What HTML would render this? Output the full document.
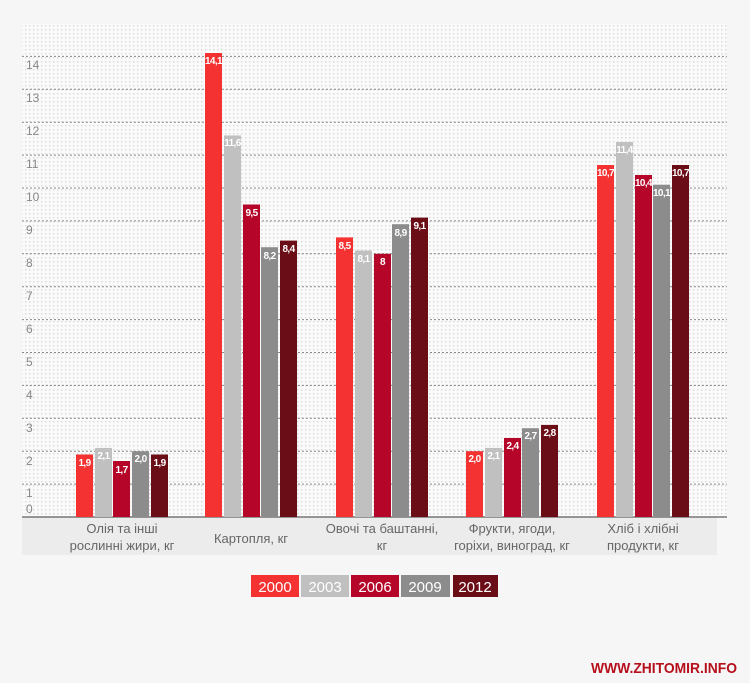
<!DOCTYPE html>
<html><head><meta charset="utf-8"><style>
html,body{margin:0;padding:0;background:#f6f6f6;}
svg{display:block;font-family:"Liberation Sans Narrow","Liberation Sans",sans-serif;}
</style></head><body>
<svg width="750" height="683" viewBox="0 0 750 683" xmlns="http://www.w3.org/2000/svg">
<defs>
<pattern id="dots" width="4" height="4" patternUnits="userSpaceOnUse">
<rect width="4" height="4" fill="#fafafa"/>
<rect x="1" y="1" width="1.4" height="1.4" fill="#d8d8d8"/>
</pattern>
</defs>
<rect width="750" height="683" fill="#f6f6f6"/>
<rect x="22" y="24" width="705" height="493" fill="url(#dots)"/>
<g stroke="#888" stroke-width="1" stroke-dasharray="2,2">
<line x1="22" x2="727" y1="56.4" y2="56.4"/><line x1="22" x2="727" y1="89.3" y2="89.3"/>
<line x1="22" x2="727" y1="122.2" y2="122.2"/><line x1="22" x2="727" y1="155.1" y2="155.1"/>
<line x1="22" x2="727" y1="188" y2="188"/><line x1="22" x2="727" y1="220.9" y2="220.9"/>
<line x1="22" x2="727" y1="253.8" y2="253.8"/><line x1="22" x2="727" y1="286.7" y2="286.7"/>
<line x1="22" x2="727" y1="319.6" y2="319.6"/><line x1="22" x2="727" y1="352.5" y2="352.5"/>
<line x1="22" x2="727" y1="385.4" y2="385.4"/><line x1="22" x2="727" y1="418.3" y2="418.3"/>
<line x1="22" x2="727" y1="451.2" y2="451.2"/><line x1="22" x2="727" y1="484.1" y2="484.1"/>
</g>
<g fill="#888" font-size="12">
<text x="26" y="69">14</text><text x="26" y="102">13</text><text x="26" y="135">12</text><text x="26" y="168">11</text>
<text x="26" y="201">10</text><text x="26" y="234">9</text><text x="26" y="267">8</text><text x="26" y="300">7</text>
<text x="26" y="333">6</text><text x="26" y="366">5</text><text x="26" y="399">4</text><text x="26" y="432">3</text>
<text x="26" y="465">2</text><text x="26" y="497">1</text><text x="26" y="513">0</text>
</g>
<rect x="22" y="517" width="695" height="38" fill="#ececec"/>
<line x1="22" x2="727" y1="517" y2="517" stroke="#777" stroke-width="1.5"/>
<g id="bars" font-size="10" font-weight="bold" fill="#fff" text-anchor="middle" letter-spacing="-0.6">
<rect x="76" y="454.5" width="17" height="62.5" fill="#f53232"/><text x="84.5" y="466">1,9</text>
<rect x="95" y="447.9" width="17" height="69.1" fill="#c0c0c0"/><text x="103.5" y="459">2,1</text>
<rect x="113" y="461" width="17" height="56" fill="#b5062a"/><text x="121.5" y="473">1,7</text>
<rect x="132" y="451.2" width="17" height="65.8" fill="#8c8c8c"/><text x="140.5" y="462">2,0</text>
<rect x="151" y="454.5" width="17" height="62.5" fill="#6b0d16"/><text x="159.5" y="466">1,9</text>
<rect x="205" y="53" width="17" height="464" fill="#f53232"/><text x="213.5" y="64">14,1</text>
<rect x="224" y="135.4" width="17" height="381.6" fill="#c0c0c0"/><text x="232.5" y="146">11,6</text>
<rect x="243" y="204.5" width="17" height="312.5" fill="#b5062a"/><text x="251.5" y="216">9,5</text>
<rect x="261" y="247.2" width="17" height="269.8" fill="#8c8c8c"/><text x="269.5" y="259">8,2</text>
<rect x="280" y="240.6" width="17" height="276.4" fill="#6b0d16"/><text x="288.5" y="252">8,4</text>
<rect x="336" y="237.4" width="17" height="279.6" fill="#f53232"/><text x="344.5" y="249">8,5</text>
<rect x="355" y="250.5" width="17" height="266.5" fill="#c0c0c0"/><text x="363.5" y="262">8,1</text>
<rect x="374" y="253.8" width="17" height="263.2" fill="#b5062a"/><text x="382.5" y="265">8</text>
<rect x="392" y="224.2" width="17" height="292.8" fill="#8c8c8c"/><text x="400.5" y="236">8,9</text>
<rect x="411" y="217.6" width="17" height="299.4" fill="#6b0d16"/><text x="419.5" y="229">9,1</text>
<rect x="466" y="451.2" width="17" height="65.8" fill="#f53232"/><text x="474.5" y="462">2,0</text>
<rect x="485" y="447.9" width="17" height="69.1" fill="#c0c0c0"/><text x="493.5" y="459">2,1</text>
<rect x="504" y="438" width="17" height="79" fill="#b5062a"/><text x="512.5" y="449">2,4</text>
<rect x="522" y="428.2" width="17" height="88.8" fill="#8c8c8c"/><text x="530.5" y="439">2,7</text>
<rect x="541" y="424.9" width="17" height="92.1" fill="#6b0d16"/><text x="549.5" y="436">2,8</text>
<rect x="597" y="165" width="17" height="352" fill="#f53232"/><text x="605.5" y="176">10,7</text>
<rect x="616" y="142" width="17" height="375" fill="#c0c0c0"/><text x="624.5" y="153">11,4</text>
<rect x="635" y="175" width="17" height="342" fill="#b5062a"/><text x="643.5" y="186">10,4</text>
<rect x="653" y="184.7" width="17" height="332.3" fill="#8c8c8c"/><text x="661.5" y="196">10,1</text>
<rect x="672" y="165" width="17" height="352" fill="#6b0d16"/><text x="680.5" y="176">10,7</text>
</g>
<g fill="#666" font-size="13" text-anchor="middle">
<text x="122" y="533">Олія та інші</text><text x="122" y="550">рослинні жири, кг</text>
<text x="251" y="543">Картопля, кг</text>
<text x="382" y="533">Овочі та баштанні,</text><text x="382" y="550">кг</text>
<text x="512" y="533">Фрукти, ягоди,</text><text x="512" y="550">горіхи, виноград, кг</text>
<text x="643" y="533">Хліб і хлібні</text><text x="643" y="550">продукти, кг</text>
</g>
<g font-size="15" fill="#fff" text-anchor="middle">
<rect x="251" y="575" width="48" height="22" fill="#f53232"/><text x="275" y="592">2000</text>
<rect x="301" y="575" width="48" height="22" fill="#c0c0c0"/><text x="325" y="592">2003</text>
<rect x="351" y="575" width="48" height="22" fill="#b5062a"/><text x="375" y="592">2006</text>
<rect x="401" y="575" width="49" height="22" fill="#8c8c8c"/><text x="425" y="592">2009</text>
<rect x="453" y="575" width="45" height="22" fill="#6b0d16"/><text x="475" y="592">2012</text>
</g>
<text x="737" y="673" text-anchor="end" font-size="15" font-weight="bold" fill="#b5101c" textLength="146" lengthAdjust="spacingAndGlyphs">WWW.ZHITOMIR.INFO</text>
</svg>
</body></html>
